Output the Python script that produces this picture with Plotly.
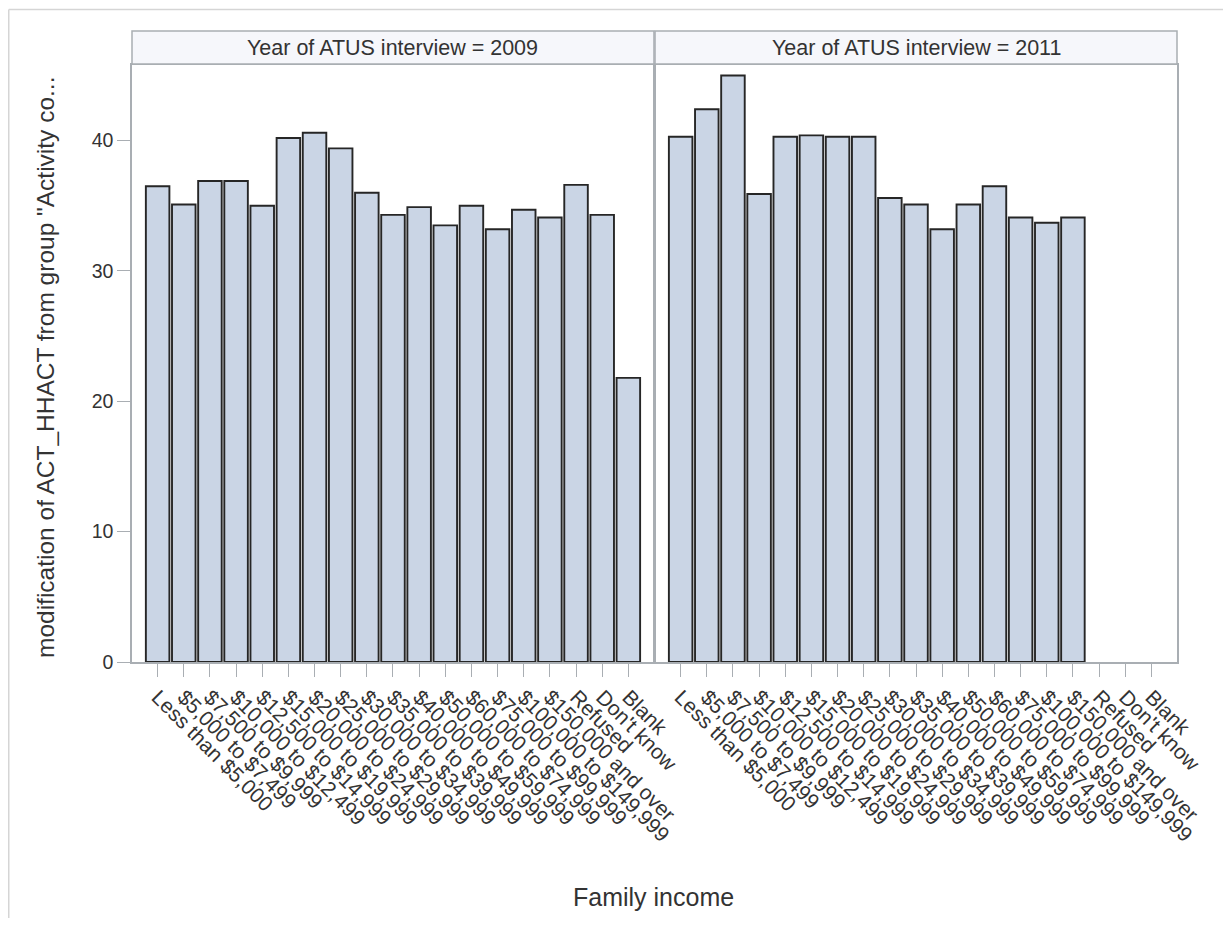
import plotly.graph_objects as go

categories = [
    "Less than $5,000", "$5,000 to $7,499", "$7,500 to $9,999", "$10,000 to $12,499",
    "$12,500 to $14,999", "$15,000 to $19,999", "$20,000 to $24,999", "$25,000 to $29,999",
    "$30,000 to $34,999", "$35,000 to $39,999", "$40,000 to $49,999", "$50,000 to $59,999",
    "$60,000 to $74,999", "$75,000 to $99,999", "$100,000 to $149,999", "$150,000 and over",
    "Refused", "Don't know", "Blank",
]
values_2009 = [36.5, 35.1, 36.9, 36.9, 35.0, 40.2, 40.6, 39.4, 36.0, 34.3,
               34.9, 33.5, 35.0, 33.2, 34.7, 34.1, 36.6, 34.3, 21.8]
values_2011 = [40.3, 42.4, 45.0, 35.9, 40.3, 40.4, 40.3, 40.3, 35.6, 35.1,
               33.2, 35.1, 36.5, 34.1, 33.7, 34.1, None, None, None]
panel_titles = ["Year of ATUS interview = 2009", "Year of ATUS interview = 2011"]
y_title = 'modification of ACT_HHACT from group "Activity co...'
x_title = "Family income"
y_ticks = [0, 10, 20, 30, 40]

FONT = "Liberation Sans, Arial, sans-serif"
FILL = "#CAD5E5"
EDGE = "#262626"
FRAME = "#A9AEB3"
TXT = "#333333"

W, H = 1215, 910
L, T, B, R = 124, 57, 256, 46
PW, PH = W - L - R, H - T - B

def px(x):
    return (x - L) / PW

def py(y):
    return (H - B - y) / PH

fig = go.Figure()
for i, vals in enumerate([values_2009, values_2011]):
    fig.add_trace(go.Bar(
        x=categories, y=vals,
        xaxis="x" if i == 0 else "x2", yaxis="y" if i == 0 else "y2",
        marker=dict(color=FILL, line=dict(color=EDGE, width=1.9)),
        width=0.9, showlegend=False, hoverinfo="x+y",
    ))

xcommon = dict(
    type="category", categoryorder="array", categoryarray=categories,
    range=[-0.98, 18.98], tickangle=45, ticks="outside", ticklen=13,
    tickcolor=FRAME, tickwidth=1.3, showline=True, mirror=True, linecolor=FRAME,
    linewidth=1.5, showgrid=False, zeroline=False,
    tickfont=dict(family=FONT, size=21, color=TXT),
)
ycommon = dict(
    range=[0, 45.8], tickvals=y_ticks, showline=True, mirror=True,
    linecolor=FRAME, linewidth=1.5, showgrid=False, zeroline=False,
)

fig.update_layout(
    width=W, height=H,
    paper_bgcolor="white", plot_bgcolor="white",
    margin=dict(l=L, r=R, t=T, b=B),
    xaxis=dict(domain=[0, 0.4995], anchor="y", **xcommon),
    xaxis2=dict(domain=[0.5005, 1], anchor="y2", **xcommon),
    yaxis=dict(domain=[0, 1], anchor="x", ticks="outside", ticklen=13,
               tickcolor=FRAME, tickwidth=1.3,
               tickfont=dict(family=FONT, size=19.5, color=TXT), **ycommon),
    yaxis2=dict(domain=[0, 1], anchor="x2", matches="y", showticklabels=False,
                ticks="", **ycommon),
)

# panel header strips
strip_y0, strip_y1 = py(56), py(23)
shapes = []
annotations = []
for (x0, x1), title in zip([(0, 0.4995), (0.5005, 1)], panel_titles):
    shapes.append(dict(type="rect", xref="paper", yref="paper", x0=x0, x1=x1,
                       y0=strip_y0, y1=strip_y1, fillcolor="#F6F7FB",
                       line=dict(color=FRAME, width=1.5), layer="above"))
    annotations.append(dict(text=title, xref="paper", yref="paper",
                            x=(x0 + x1) / 2, y=(strip_y0 + strip_y1) / 2,
                            showarrow=False, xanchor="center", yanchor="middle",
                            font=dict(family=FONT, size=21.5, color=TXT)))

# outer light frame of the image (top and left edges)
shapes.append(dict(type="line", xref="paper", yref="paper", x0=px(0.75), x1=px(W + 5),
                   y0=py(1.5), y1=py(1.5), line=dict(color="#D5D5D5", width=1.5)))
shapes.append(dict(type="line", xref="paper", yref="paper", x0=px(0.75), x1=px(0.75),
                   y0=py(1.5), y1=py(H + 5), line=dict(color="#D5D5D5", width=1.5)))

annotations.append(dict(text=y_title, xref="paper", yref="paper", x=px(37), y=py(360),
                        textangle=-90, showarrow=False, xanchor="center", yanchor="middle",
                        font=dict(family=FONT, size=24.5, color=TXT)))
annotations.append(dict(text=x_title, xref="paper", yref="paper", x=px(645), y=py(889),
                        showarrow=False, xanchor="center", yanchor="middle",
                        font=dict(family=FONT, size=25, color=TXT)))

fig.update_layout(shapes=shapes, annotations=annotations)
fig.write_html("out.html")
